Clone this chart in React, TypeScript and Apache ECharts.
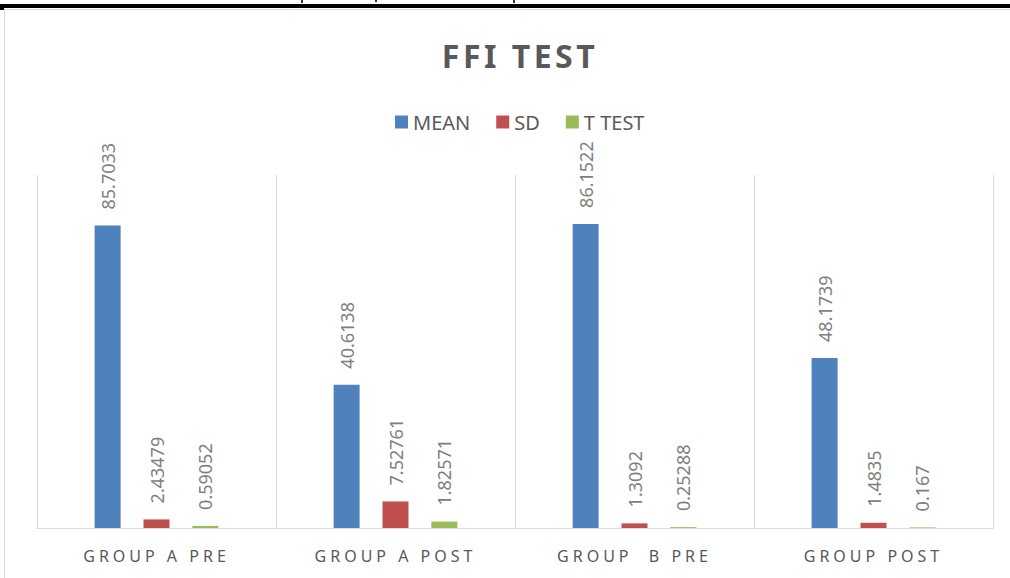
import React, { useEffect, useRef } from "react";
import * as echarts from "echarts";

const categories = ["GROUP A PRE", "GROUP A POST", "GROUP  B PRE", "GROUP POST"];
const meanValues = [85.7033, 40.6138, 86.1522, 48.1739];
const sdValues = [2.43479, 7.52761, 1.3092, 1.4835];
const tTestValues = [0.59052, 1.82571, 0.25288, 0.167];
const seriesNames = ["MEAN", "SD", "T TEST"];
const colors = ["#4F81BD", "#C0504D", "#9BBB59"];
const titleText = "FFI TEST";

const FONT = "'Noto Sans', 'Open Sans', sans-serif";

export default function App() {
  const ref = useRef<HTMLDivElement>(null);

  useEffect(() => {
    if (!ref.current) return;
    const chart = echarts.init(ref.current, null, { renderer: "svg" });

    const labelStyle = {
      show: true,
      position: "top" as const,
      rotate: 90,
      align: "left" as const,
      verticalAlign: "middle" as const,
      distance: 16,
      color: "#7f7f7f",
      fontSize: 18,
      fontFamily: FONT,
    };

    const dataSets = [meanValues, sdValues, tTestValues];

    chart.setOption({
      animation: false,
      backgroundColor: "#ffffff",
      title: {
        text: titleText,
        left: 515,
        top: 34,
        textAlign: "center",
        textStyle: {
          fontSize: 32,
          fontWeight: "bold",
          color: "#595959",
          fontFamily: FONT,
        },
      },
      legend: {
        data: seriesNames,
        left: 390,
        top: 107,
        itemWidth: 13,
        itemHeight: 13,
        itemGap: 26,
        icon: "rect",
        textStyle: { fontSize: 20, color: "#595959", fontFamily: FONT },
      },
      grid: { left: 37, right: 17, top: 175, bottom: 50, containLabel: false },
      xAxis: {
        type: "category",
        data: categories,
        axisLine: { show: true, lineStyle: { color: "#d9d9d9", width: 1 } },
        axisTick: { show: false },
        splitLine: { show: true, lineStyle: { color: "#d9d9d9", width: 1 } },
        axisLabel: {
          margin: 20,
          fontSize: 16,
          color: "#595959",
          fontFamily: FONT,
          interval: 0,
        },
      },
      yAxis: {
        type: "value",
        min: 0,
        max: 100,
        show: false,
        splitLine: { show: false },
      },
      graphic: [
        { type: "rect", shape: { x: 0, y: 4, width: 1010, height: 4 }, style: { fill: "#000000" } },
        { type: "rect", shape: { x: 0, y: 8, width: 4, height: 2 }, style: { fill: "#000000" } },
        { type: "line", shape: { x1: 4.5, y1: 9, x2: 4.5, y2: 578 }, style: { stroke: "#d9d9d9", lineWidth: 1 } },
        { type: "line", shape: { x1: 4, y1: 9.5, x2: 1010, y2: 9.5 }, style: { stroke: "#d9d9d9", lineWidth: 1 } },
        { type: "rect", shape: { x: 301, y: 0, width: 2, height: 3 }, style: { fill: "#1f3864" } },
        { type: "rect", shape: { x: 375, y: 0, width: 2, height: 2 }, style: { fill: "#1f3864" } },
        { type: "rect", shape: { x: 513, y: 0, width: 2, height: 3 }, style: { fill: "#1f3864" } },
      ],
      series: seriesNames.map((name, i) => ({
        name,
        type: "bar",
        data: dataSets[i],
        barWidth: 26,
        barGap: "88%",
        itemStyle: { color: colors[i] },
        label: labelStyle,
      })),
    });

    const applySpacing = () => {
      const root = ref.current;
      if (!root) return;
      root.querySelectorAll("text").forEach((t) => {
        const raw = t.textContent || "";
        const s = raw.trim();
        if (categories.includes(raw) || categories.map((c) => c.trim()).includes(s)) {
          t.setAttribute("letter-spacing", "4");
          t.setAttribute("xml:space", "preserve");
          t.style.whiteSpace = "pre";
        } else if (s === titleText) {
          t.setAttribute("letter-spacing", "3.5");
        }
      });
    };
    applySpacing();
    chart.on("finished", applySpacing);
    const timer = setTimeout(applySpacing, 50);

    return () => {
      clearTimeout(timer);
      chart.dispose();
    };
  }, []);

  return (
    <div
      ref={ref}
      style={{ position: "fixed", left: 0, top: 0, width: 1010, height: 578 }}
    />
  );
}
